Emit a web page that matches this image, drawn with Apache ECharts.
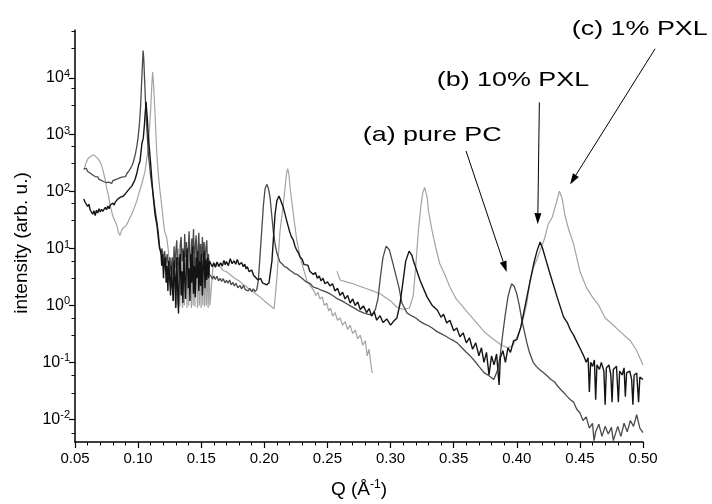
<!DOCTYPE html>
<html><head><meta charset="utf-8">
<script src="https://cdn.jsdelivr.net/npm/echarts@6/dist/echarts.min.js"></script>
<style>html,body{margin:0;padding:0;background:#fff}#c{width:712px;height:504px}</style>
</head><body><div id="c"></div>
<script>
// [Q (1/Å), intensity (arb. u.)]
const purePC = [
[0.0570,250],[0.0580,238],[0.0590,256],[0.0600,226],[0.0610,234],[0.0620,212],[0.0630,222],[0.0640,196],[0.0650,203],[0.0660,184],[0.0670,178],[0.0680,182],[0.0690,164],[0.0700,171],[0.0710,157],[0.0720,163],[0.0730,149],[0.0740,159],[0.0750,144],[0.0760,156],[0.0770,147],[0.0780,153],[0.0790,139],[0.0800,156],[0.0810,149],[0.0820,163],[0.0830,154],[0.0840,169],[0.0850,160],[0.0860,176],[0.0870,167],[0.0880,181],[0.0890,191],[0.0900,184],[0.0910,206],[0.0920,216],[0.0930,236],[0.0940,252],[0.0950,282],[0.0960,322],[0.0970,385],[0.0980,480],[0.0990,630],[0.1000,900],[0.1010,1500],[0.1020,3200],[0.1025,6000],[0.1030,10500],[0.1035,19000],[0.1040,30000],[0.1045,21000],[0.1050,11000],[0.1055,6000],[0.1060,3000],[0.1070,1200],[0.1080,500],[0.1090,300],[0.1100,180],[0.1110,125],[0.1120,88],[0.1130,58],[0.1140,40],[0.1150,28],[0.1160,19],[0.1170,11],
[0.1180,8],[0.1190,10],[0.1200,6],[0.1210,9],[0.1220,5],[0.1230,8],[0.1240,4.5],[0.1250,7],[0.1260,4],[0.1270,7],[0.1278,3.5],
[0.1285,11],[0.1292,4.5],[0.1299,9],[0.1306,14],[0.1313,5],[0.1320,7],[0.1327,3.5],[0.1334,12],[0.1341,16],[0.1348,6],[0.1355,10],[0.1362,4],[0.1369,18],[0.1376,7],[0.1383,13],[0.1390,5],[0.1397,9],[0.1404,20],[0.1411,6.5],[0.1418,4],[0.1425,15],[0.1432,8],[0.1439,22],[0.1446,5],[0.1453,11],[0.1460,17],[0.1467,4.5],[0.1474,9],[0.1481,19],[0.1488,6],[0.1495,12],[0.1502,4],[0.1509,16],[0.1516,7],[0.1523,13],[0.1530,5],[0.1537,10],[0.1544,14],[0.1551,4.5],[0.1558,8],[0.1565,3.5],[0.1570,3.3],
[0.1580,3.2],[0.1590,2.9],[0.1600,3.3],[0.1612,2.85],[0.1625,3.25],[0.1637,2.7],[0.1650,3.0],[0.1662,2.65],[0.1675,2.95],[0.1687,2.5],[0.1700,2.75],[0.1712,2.45],[0.1725,2.8],[0.1737,2.3],[0.1750,2.55],[0.1762,2.2],[0.1775,2.45],[0.1790,2.05],[0.1807,2.25],[0.1820,1.95],[0.1835,2.25],[0.1848,1.9],[0.1860,2.05],[0.1872,1.8],[0.1885,2.0],[0.1900,1.75],[0.1913,1.95],[0.1927,1.75],[0.1940,1.9],[0.1952,2.7],[0.1965,7],[0.1979,20],[0.1992,55],[0.2005,110],[0.2019,134],[0.2032,115],[0.2045,80],[0.2058,40],[0.2072,19],[0.2085,12],[0.2098,8.5],[0.2124,5.8],[0.2140,5.4],[0.2160,4.8],[0.2180,4.6],[0.2204,4.1],[0.2220,3.9],[0.2240,3.6],[0.2260,3.5],[0.2283,3.2],[0.2305,2.9],[0.2330,2.6],[0.2360,2.45],[0.2389,2.1],[0.2420,2.0],[0.2450,1.85],[0.2485,1.75],[0.2520,1.6],[0.2550,1.45],[0.2580,1.3],[0.2615,1.2],[0.2653,1.07],[0.2685,0.97],[0.2720,0.88],[0.2750,0.8],[0.2785,0.74],[0.2820,0.7],[0.2855,0.68],[0.2880,0.85],[0.2900,1.3],[0.2920,3.2],[0.2940,7],[0.2965,11],[0.2990,9.5],[0.3010,6.5],[0.3026,4.7],[0.3066,2.1],[0.3090,1.1],[0.3130,0.74],[0.3165,0.66],[0.3200,0.6],[0.3230,0.53],[0.3264,0.48],[0.3300,0.44],[0.3330,0.4],[0.3365,0.35],[0.3400,0.32],[0.3435,0.29],[0.3470,0.26],[0.3500,0.24],[0.3528,0.22],[0.3565,0.18],[0.3600,0.15],[0.3630,0.13],[0.3660,0.11],[0.3700,0.085],[0.3740,0.066],[0.3780,0.058],[0.3818,0.05],[0.3850,0.075],[0.3870,0.14],[0.3890,0.33],[0.3910,0.72],[0.3930,1.4],[0.3945,1.9],[0.3960,2.4],[0.3980,2.15],[0.4000,1.6],[0.4020,1.0],[0.4040,0.55],[0.4060,0.35],[0.4080,0.22],[0.4100,0.15],[0.4130,0.1],[0.4155,0.085],[0.4180,0.075],[0.4210,0.066],[0.4240,0.058],[0.4270,0.05],[0.4300,0.045],[0.4325,0.038],[0.4350,0.033],[0.4375,0.029],[0.4400,0.025],[0.4425,0.022],[0.4450,0.02],[0.4475,0.015],[0.4500,0.013],[0.4525,0.0095],[0.4550,0.011],[0.4575,0.007],[0.4600,0.0085],[0.4612,0.0042],[0.4625,0.006],[0.4650,0.0082],[0.4675,0.005],[0.4700,0.0075],[0.4725,0.0055],[0.4750,0.0072],[0.4765,0.0042],[0.4775,0.0045],[0.4800,0.0075],[0.4825,0.005],[0.4850,0.0085],[0.4875,0.006],[0.4900,0.0095],[0.4925,0.0075],[0.4950,0.012],[0.4975,0.007],[0.5000,0.0058]
];
const pxl10 = [
[0.0570,74],[0.0580,65],[0.0590,70],[0.0600,55],[0.0610,60],[0.0620,48],[0.0630,52],[0.0640,40],[0.0650,46],[0.0660,38],[0.0670,47],[0.0680,42],[0.0690,50],[0.0700,44],[0.0710,49],[0.0720,45],[0.0730,44],[0.0740,53],[0.0750,48],[0.0760,56],[0.0770,50],[0.0780,58],[0.0790,54],[0.0800,63],[0.0810,58],[0.0820,66],[0.0830,64],[0.0840,74],[0.0850,70],[0.0860,80],[0.0870,76],[0.0880,83],[0.0890,80],[0.0900,92],[0.0910,95],[0.0920,105],[0.0935,107],[0.0950,125],[0.0975,162],[0.0990,210],[0.1005,300],[0.1015,340],[0.1030,700],[0.1041,870],[0.1050,1500],[0.1055,2200],[0.1063,3800],[0.1068,2600],[0.1073,1950],[0.1080,1000],[0.1089,575],[0.1100,300],[0.1108,170],[0.1120,80],[0.1134,40],[0.1150,25],[0.1160,15.5],[0.1170,10],
[0.1180,9],[0.1187,5],[0.1194,8],[0.1201,3],[0.1208,6],[0.1215,7],[0.1222,2.5],[0.1229,5],[0.1236,1.8],[0.1243,6],[0.1250,3],[0.1257,1.5],[0.1264,5],[0.1271,2.2],[0.1278,1.2],[0.1285,6],[0.1292,3],[0.1299,0.9],[0.1306,7],[0.1313,2],[0.1320,0.72],[0.1327,5],[0.1334,8],[0.1341,1.5],[0.1348,4],[0.1355,1.1],[0.1362,9],[0.1369,3],[0.1376,1.3],[0.1383,6],[0.1390,10],[0.1397,2],[0.1404,4.5],[0.1411,1.2],[0.1418,8],[0.1425,2.5],[0.1432,11],[0.1439,1.6],[0.1446,5],[0.1453,1.4],[0.1460,7],[0.1467,3],[0.1474,9],[0.1481,1.8],[0.1488,6],[0.1495,2.2],[0.1502,8],[0.1509,1.5],[0.1516,5],[0.1523,9],[0.1530,2],[0.1537,6.5],[0.1544,2.8],[0.1551,7],[0.1558,3],[0.1565,6],
[0.1575,5.6],[0.1588,4.8],[0.1600,5.5],[0.1612,4.7],[0.1625,5.8],[0.1640,4.9],[0.1654,5.6],[0.1667,4.9],[0.1680,6.2],[0.1690,5.2],[0.1700,5.9],[0.1715,5.0],[0.1730,6.6],[0.1745,5.4],[0.1760,6.1],[0.1773,5.3],[0.1786,6.4],[0.1800,5.2],[0.1820,5.7],[0.1833,4.8],[0.1845,5.3],[0.1855,4.4],[0.1865,4.8],[0.1880,3.9],[0.1900,4.2],[0.1915,3.4],[0.1930,3.5],[0.1950,2.8],[0.1970,3.0],[0.1985,2.5],[0.2000,2.7],[0.2020,2.3],[0.2037,2.5],[0.2060,6],[0.2085,40],[0.2100,70],[0.2116,84],[0.2130,70],[0.2150,53],[0.2177,31],[0.2200,20],[0.2215,16],[0.2230,14],[0.2243,11],[0.2255,9.5],[0.2268,8.6],[0.2283,7.1],[0.2300,6.5],[0.2315,5.2],[0.2330,4.8],[0.2345,5.1],[0.2360,4.0],[0.2375,4.2],[0.2389,3.5],[0.2405,3.8],[0.2420,3.0],[0.2435,3.3],[0.2450,2.7],[0.2465,3.0],[0.2480,2.4],[0.2500,2.6],[0.2520,2.2],[0.2540,2.4],[0.2560,1.8],[0.2580,2.0],[0.2600,1.5],[0.2620,1.7],[0.2640,1.3],[0.2660,1.5],[0.2680,1.1],[0.2700,1.3],[0.2720,1.0],[0.2740,1.15],[0.2760,0.85],[0.2785,0.98],[0.2810,0.75],[0.2830,0.88],[0.2850,0.65],[0.2870,0.78],[0.2890,0.55],[0.2917,0.66],[0.2940,0.5],[0.2970,0.58],[0.3000,0.45],[0.3022,0.52],[0.3050,0.6],[0.3075,1.07],[0.3100,2.75],[0.3120,6],[0.3147,9],[0.3170,7.5],[0.3180,6.2],[0.3234,2.75],[0.3290,1.4],[0.3330,1.0],[0.3370,0.83],[0.3400,0.62],[0.3420,0.7],[0.3445,0.49],[0.3470,0.55],[0.3500,0.36],[0.3525,0.4],[0.3550,0.28],[0.3575,0.33],[0.3600,0.22],[0.3625,0.27],[0.3650,0.17],[0.3675,0.22],[0.3700,0.13],[0.3720,0.18],[0.3740,0.1],[0.3760,0.15],[0.3780,0.06],[0.3800,0.13],[0.3820,0.09],[0.3840,0.14],[0.3860,0.04],[0.3870,0.12],[0.3890,0.16],[0.3910,0.1],[0.3930,0.18],[0.3950,0.15],[0.3975,0.24],[0.4000,0.25],[0.4030,0.4],[0.4054,0.72],[0.4080,1.4],[0.4107,2.75],[0.4135,5.5],[0.4160,9],[0.4185,13],[0.4205,10],[0.4225,7],[0.4265,3.5],[0.4320,1.4],[0.4370,0.63],[0.4400,0.5],[0.4425,0.37],[0.4450,0.3],[0.4480,0.22],[0.4505,0.17],[0.4530,0.13],[0.4550,0.1],[0.4565,0.12],[0.4575,0.03],[0.4585,0.1],[0.4600,0.085],[0.4615,0.11],[0.4625,0.022],[0.4635,0.09],[0.4655,0.075],[0.4670,0.1],[0.4690,0.07],[0.4700,0.018],[0.4710,0.08],[0.4730,0.09],[0.4745,0.06],[0.4755,0.02],[0.4765,0.075],[0.4790,0.085],[0.4805,0.02],[0.4815,0.07],[0.4835,0.06],[0.4850,0.08],[0.4860,0.025],[0.4870,0.065],[0.4895,0.07],[0.4910,0.05],[0.4920,0.018],[0.4930,0.06],[0.4950,0.065],[0.4965,0.02],[0.4975,0.055],[0.5000,0.05]
];
const pxl1Low = [
[0.0570,240],[0.0580,280],[0.0590,330],[0.0606,390],[0.0620,420],[0.0645,445],[0.0660,420],[0.0672,400],[0.0685,375],[0.0698,340],[0.0712,280],[0.0724,225],[0.0740,160],[0.0751,115],[0.0765,85],[0.0777,59],[0.0790,45],[0.0804,35],[0.0817,30],[0.0830,26],[0.0845,19],[0.0857,17],[0.0870,21],[0.0883,23],[0.0895,24],[0.0909,26],[0.0930,33],[0.0949,40],[0.0970,52],[0.0989,68],[0.1010,100],[0.1028,132],[0.1040,170],[0.1055,224],[0.1070,400],[0.1081,575],[0.1090,1300],[0.1100,2900],[0.1108,7000],[0.1115,12600],[0.1122,8000],[0.1131,3300],[0.1140,1200],[0.1147,500],[0.1160,200],[0.1174,100],[0.1190,50],[0.1200,30],[0.1210,20],[0.1227,15.5],
[0.1240,9],[0.1247,5],[0.1254,7],[0.1261,2],[0.1268,6],[0.1275,1.2],[0.1282,8],[0.1289,3],[0.1296,0.9],[0.1303,7],[0.1310,1.0],[0.1317,10],[0.1324,4],[0.1331,0.95],[0.1338,12],[0.1345,2],[0.1352,0.9],[0.1359,9],[0.1366,1.0],[0.1373,6],[0.1380,11],[0.1387,0.9],[0.1394,8],[0.1401,1.0],[0.1408,13],[0.1415,3],[0.1422,0.9],[0.1429,10],[0.1436,1.0],[0.1443,7],[0.1450,0.95],[0.1457,9],[0.1464,2.5],[0.1471,0.9],[0.1478,12],[0.1485,1.0],[0.1492,8],[0.1499,0.9],[0.1506,10],[0.1513,1.0],[0.1520,6],[0.1527,0.95],[0.1534,9],[0.1541,1.0],[0.1548,7],[0.1555,0.9],[0.1562,6.5],[0.1569,1.0],
[0.1596,5.8],[0.1620,5.0],[0.1650,4.8],[0.1675,4.1],[0.1700,3.9],[0.1728,3.5],[0.1765,3.0],[0.1800,2.7],[0.1830,2.35],[0.1860,2.1],[0.1900,1.8],[0.1930,1.6],[0.1966,1.4],[0.2000,1.2],[0.2045,1.0],[0.2077,0.87],[0.2098,2.75],[0.2124,20],[0.2156,78],[0.2175,200],[0.2185,254],[0.2195,200],[0.2204,117],[0.2230,40],[0.2257,14],[0.2283,7.1],[0.2336,2.75],[0.2389,1.86],[0.2410,1.5],[0.2425,1.7],[0.2440,1.3],[0.2460,1.4],[0.2475,1.0],[0.2494,1.1],[0.2510,0.8],[0.2525,0.9],[0.2540,0.65],[0.2560,0.75],[0.2580,0.55],[0.2600,0.6],[0.2620,0.45],[0.2640,0.52],[0.2660,0.38],[0.2680,0.45],[0.2700,0.32],[0.2720,0.37],[0.2740,0.26],[0.2760,0.3],[0.2780,0.2],[0.2800,0.24],[0.2815,0.13],[0.2830,0.17],[0.2845,0.09],[0.2855,0.065]
];
const pxl1High = [
[0.2575,4.0],[0.2600,2.8],[0.2650,2.6],[0.2705,2.4],[0.2750,2.2],[0.2800,2.0],[0.2860,1.8],[0.2917,1.6],[0.3000,1.2],[0.3050,0.93],[0.3100,0.85],[0.3150,0.9],[0.3180,1.5],[0.3200,5],[0.3220,20],[0.3240,55],[0.3255,95],[0.3270,118],[0.3290,80],[0.3300,46],[0.3330,20],[0.3360,10],[0.3390,5.4],[0.3430,3.5],[0.3470,2.1],[0.3520,1.3],[0.3600,0.8],[0.3680,0.5],[0.3750,0.33],[0.3820,0.25],[0.3880,0.2],[0.3930,0.18],[0.3970,0.2],[0.4000,0.27],[0.4030,0.4],[0.4060,0.7],[0.4080,1.1],[0.4105,2.75],[0.4130,4.5],[0.4160,6.5],[0.4185,9.2],[0.4220,15],[0.4250,27],[0.4280,35],[0.4310,60],[0.4338,102],[0.4360,75],[0.4380,40],[0.4410,22],[0.4450,12],[0.4500,4],[0.4550,2.1],[0.4600,1.4],[0.4650,1.0],[0.4700,0.6],[0.4750,0.48],[0.4800,0.38],[0.4850,0.3],[0.4900,0.24],[0.4950,0.16],[0.5000,0.09]
];

const xTicks = [0.05,0.10,0.15,0.20,0.25,0.30,0.35,0.40,0.45,0.50];
const yDecades = [-2,-1,0,1,2,3,4];
const yMinorFactors = [10/3, 20/3];

const annotations = [
  {text:'(a) pure PC', tx:0.278, ty:980, from:[0.3598,518], to:[0.3920,3.85]},
  {text:'(b) 10% PXL', tx:0.3366, ty:9100, from:[0.4179,3700], to:[0.4166,26.8]},
  {text:'(c) 1% PXL', tx:0.4436, ty:72000, from:[0.5096,32400], to:[0.4422,134]}
];

const FONT = '"Liberation Sans", Arial, Helvetica, sans-serif';
const Y_MIN = -2.4, Y_MAX = 4.84;
const yMinor = [];
[-3].concat(yDecades).forEach(d => yMinorFactors.forEach(f => {
  const v = d + Math.log10(f); if (v >= Y_MIN && v <= Y_MAX) yMinor.push(v);
}));
const toLog = arr => arr.map(p => [p[0], Math.log10(p[1])]);

const chart = echarts.init(document.getElementById('c'), null, {renderer:'canvas'});
const lineSeries = (name, data, color, w) => ({
  name, type:'line', data: toLog(data), showSymbol:false, symbol:'none',
  xAxisIndex:0, yAxisIndex:0,
  lineStyle:{color, width:w}, animation:false, clip:true, silent:true
});
const gridBox = {left:75, right:69, top:30, bottom:58, containLabel:false};

chart.setOption({
  animation:false,
  backgroundColor:'#fff',
  grid:[Object.assign({}, gridBox), Object.assign({}, gridBox)],
  xAxis:[{
    gridIndex:0, type:'value', min:0.05, max:0.5, interval:0.05,
    axisLine:{onZero:false, lineStyle:{color:'#000', width:1.5}},
    axisTick:{length:6, lineStyle:{color:'#000', width:1.2}},
    minorTick:{show:true, splitNumber:5, length:3.5, lineStyle:{color:'#000', width:1}},
    splitLine:{show:false},
    axisLabel:{color:'#000', fontSize:15, fontFamily:FONT, margin:9, formatter:v=>v.toFixed(2)},
    name:'Q (Å{s|-1})', nameLocation:'middle', nameGap:37,
    nameTextStyle:{color:'#000', fontSize:19, fontFamily:FONT, rich:{s:{fontSize:12, fontFamily:FONT, color:'#000', padding:[0,0,9,0]}}}
  },{
    gridIndex:1, type:'value', min:0.05, max:0.5, show:false
  }],
  yAxis:[{
    gridIndex:0, type:'value', min:Y_MIN, max:Y_MAX,
    axisLine:{show:true, onZero:false, lineStyle:{color:'#000', width:1.5}},
    axisTick:{show:true, length:6, customValues:yDecades, lineStyle:{color:'#000', width:1.2}},
    splitLine:{show:false},
    axisLabel:{customValues:yDecades, margin:5, formatter:v=>'{b|10}{s|'+Math.round(v)+'}',
      rich:{b:{fontSize:16, fontFamily:FONT, color:'#000'}, s:{fontSize:11, fontFamily:FONT, color:'#000', padding:[0,0,8,0]}}},
    name:'intensity (arb. u.)', nameLocation:'middle', nameGap:44,
    nameTextStyle:{color:'#000', fontSize:19, fontFamily:FONT, padding:[0,14,0,0]}
  },{
    gridIndex:1, type:'value', min:Y_MIN, max:Y_MAX, position:'left',
    axisLine:{show:false, onZero:false},
    axisTick:{show:true, length:3.5, customValues:yMinor, lineStyle:{color:'#000', width:1}},
    axisLabel:{show:false}, splitLine:{show:false}
  }],
  series:[
    lineSeries('1% PXL low', pxl1Low, '#a3a3a3', 1.2),
    lineSeries('1% PXL high', pxl1High, '#a3a3a3', 1.2),
    lineSeries('pure PC', purePC, '#4a4a4a', 1.3),
    lineSeries('10% PXL', pxl10, '#141414', 1.4)
  ]
});

// annotations: placed through the chart's own coordinate conversion
const g = [];
annotations.forEach(a => {
  const tp = chart.convertToPixel({seriesIndex:0}, [a.tx, Math.log10(a.ty)]);
  const p1 = chart.convertToPixel({seriesIndex:0}, [a.from[0], Math.log10(a.from[1])]);
  const p2 = chart.convertToPixel({seriesIndex:0}, [a.to[0], Math.log10(a.to[1])]);
  g.push({type:'text', x:tp[0], y:tp[1], scaleX:1.28, silent:true,
    style:{text:a.text, font:'21px '+FONT, fill:'#000', textAlign:'left', textVerticalAlign:'middle'}});
  const ang = Math.atan2(p2[1]-p1[1], p2[0]-p1[0]);
  const L = 11, W = 3.5;
  const bx = p2[0] - L*Math.cos(ang), by = p2[1] - L*Math.sin(ang);
  g.push({type:'line', silent:true, shape:{x1:p1[0], y1:p1[1], x2:bx, y2:by}, style:{stroke:'#000', lineWidth:1}});
  g.push({type:'polygon', silent:true, shape:{points:[[p2[0],p2[1]],[bx - W*Math.sin(ang), by + W*Math.cos(ang)],[bx + W*Math.sin(ang), by - W*Math.cos(ang)]]}, style:{fill:'#000'}});
});
chart.setOption({graphic:g});
</script>
</body></html>
